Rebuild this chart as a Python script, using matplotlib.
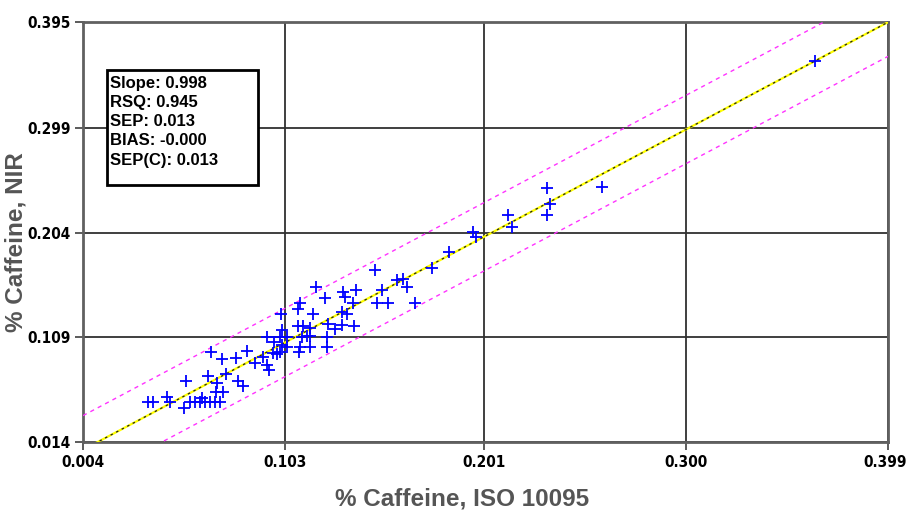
import matplotlib
matplotlib.use("Agg")
import matplotlib.pyplot as plt
from matplotlib.patches import Rectangle
from matplotlib import font_manager
import matplotlib.transforms as mtransforms
import numpy as np

# Data
x_ref = [0.0359, 0.0383, 0.0452, 0.0467, 0.0545, 0.0536, 0.0565, 0.0590, 0.0614, 0.0624,
         0.0639, 0.0663, 0.0688, 0.0712, 0.0653, 0.0693, 0.0727, 0.0698, 0.0742, 0.0801,
         0.0825, 0.0668, 0.0722, 0.0791, 0.0845, 0.0884, 0.0923, 0.0943, 0.0953, 0.0972,
         0.0992, 0.1007, 0.1016, 0.0943, 0.0977, 0.1007, 0.1016, 0.1012, 0.1041, 0.1041,
         0.1105, 0.1100, 0.1154, 0.1095, 0.1105, 0.1169, 0.1095, 0.1120, 0.1154, 0.1115,
         0.1139, 0.1154, 0.1183, 0.1227, 0.1237, 0.1237, 0.1242, 0.1277, 0.1311, 0.1311,
         0.1316, 0.1326, 0.1335, 0.1365, 0.1370, 0.1380, 0.1473, 0.1483, 0.1507, 0.1537,
         0.1581, 0.1610, 0.1630, 0.1669, 0.1753, 0.1836, 0.1954, 0.1968, 0.2126, 0.2145,
         0.2317, 0.2332, 0.2317, 0.2587, 0.3632]
y_nir = [0.0503, 0.0503, 0.0548, 0.0503, 0.0693, 0.0448, 0.0503, 0.0503, 0.0503, 0.0539,
         0.0503, 0.0503, 0.0503, 0.0503, 0.0739, 0.0594, 0.0594, 0.0675, 0.0757, 0.0693,
         0.0648, 0.0956, 0.0893, 0.0902, 0.0965, 0.0857, 0.0911, 0.0838, 0.0793, 0.0947,
         0.0938, 0.0956, 0.1020, 0.1092, 0.1047, 0.1092, 0.1156, 0.1301, 0.1092, 0.1002,
         0.1002, 0.0956, 0.1002, 0.1346, 0.1401, 0.1301, 0.1192, 0.1192, 0.1174, 0.1092,
         0.1101, 0.1101, 0.1546, 0.1446, 0.1092, 0.1002, 0.1210, 0.1165, 0.1201, 0.1319,
         0.1501, 0.1455, 0.1301, 0.1401, 0.1192, 0.1519, 0.1700, 0.1401, 0.1519, 0.1401,
         0.1609, 0.1618, 0.1546, 0.1401, 0.1718, 0.1863, 0.2045, 0.2000, 0.2199, 0.2090,
         0.2444, 0.2299, 0.2199, 0.2453, 0.3596]

x_ticks = [0.004, 0.103, 0.201, 0.300, 0.399]
y_ticks = [0.014, 0.109, 0.204, 0.299, 0.395]
x_tick_labels = ["0.004", "0.103", "0.201", "0.300", "0.399"]
y_tick_labels = ["0.014", "0.109", "0.204", "0.299", "0.395"]

fit_slope = 0.982
fit_intercept = 0.003
band = 0.031

stats_lines = ["Slope: 0.998", "RSQ: 0.945", "SEP: 0.013", "BIAS: -0.000", "SEP(C): 0.013"]

plt.rcParams['font.family'] = ['Liberation Sans', 'DejaVu Sans']

# find a condensed bold font for the tick labels, if one is installed
tick_font = None
for f in font_manager.fontManager.ttflist:
    if ('Narrow' in f.name or 'Condensed' in f.name or f.stretch in ('condensed', 'semi-condensed')) \
            and f.weight in ('bold', 700, 'heavy'):
        tick_font = font_manager.FontProperties(fname=f.fname, size=11)
        break
if tick_font is None:
    tick_font = font_manager.FontProperties(family='Liberation Sans', weight='bold', size=11)

fig = plt.figure(figsize=(9.09, 5.11), dpi=100)
ax = fig.add_axes([83/909, 69/511, 805/909, 420/511])
ax.set_xlim(x_ticks[0], x_ticks[-1])
ax.set_ylim(y_ticks[0], y_ticks[-1])

ax.set_xticks(x_ticks)
ax.set_yticks(y_ticks)
ax.set_xticklabels(x_tick_labels, fontproperties=tick_font)
ax.set_yticklabels(y_tick_labels, fontproperties=tick_font)
ax.tick_params(length=6, width=1.2, color='#404040', pad=3)
ax.grid(True, color='#303030', linewidth=1.3)
ax.set_axisbelow(True)
for s in ax.spines.values():
    s.set_color('#606060')
    s.set_linewidth(2)

# nudge the last x tick label so it stays inside the figure
last = ax.get_xticklabels()[-1]
last.set_transform(last.get_transform() + mtransforms.ScaledTranslation(-3/100, 0, fig.dpi_scale_trans))

xx = np.array([x_ticks[0], x_ticks[-1]])
ax.plot(xx, fit_slope * xx + fit_intercept + band, color='#ff33ff', lw=1.0, ls=(0, (3, 3)), zorder=3)
ax.plot(xx, fit_slope * xx + fit_intercept - band, color='#ff33ff', lw=1.0, ls=(0, (3, 3)), zorder=3)
ax.plot(xx, fit_slope * xx + fit_intercept, color='#ffff00', lw=1.6, zorder=3)
ax.plot(xx, fit_slope * xx + fit_intercept, color='#202020', lw=0.9, ls=(0, (2, 3)), zorder=4)

ax.plot(x_ref, y_nir, linestyle='none', marker='+', markersize=9, markeredgewidth=1.3,
        color='#0000ff', zorder=5)

# stats box
bx0, bx1 = (107 - 83) / 805, (258 - 83) / 805
by1, by0 = (442 - 70) / 420, (442 - 185) / 420
ax.add_patch(Rectangle((bx0, by0), bx1 - bx0, by1 - by0, transform=ax.transAxes,
                       facecolor='white', edgecolor='black', lw=2, zorder=6))
for i, t in enumerate(stats_lines):
    ypx = 83 + i * 19.3
    ax.text((110 - 83) / 805, (442 - ypx) / 420, t, transform=ax.transAxes,
            fontsize=12, fontweight='bold', va='center', ha='left', zorder=7)

fig.text(462/909, 1 - 499/511, "% Caffeine, ISO 10095", fontsize=17.5, fontweight='bold',
         color='#555555', ha='center', va='center')
fig.text(16/909, 1 - 242/511, "% Caffeine, NIR", fontsize=17.5, fontweight='bold',
         color='#555555', ha='center', va='center', rotation=90)

fig.savefig("out.png", dpi=100)
